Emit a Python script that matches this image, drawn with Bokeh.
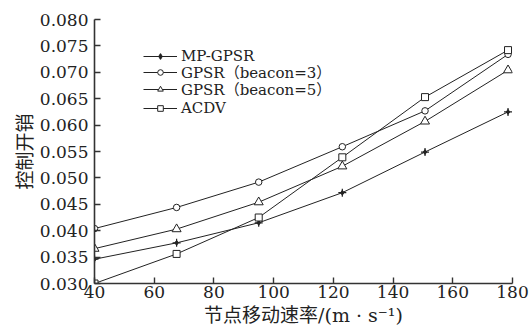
from bokeh.plotting import figure
from bokeh.models import Legend, LegendItem, FixedTicker, NumeralTickFormatter, Range1d
from bokeh.embed import file_html
from bokeh.resources import INLINE

# data
speed = [40, 67.5, 95, 123, 150.7, 178.5]
mp_gpsr = [0.0346, 0.0377, 0.0415, 0.0472, 0.0549, 0.0625]
gpsr_b3 = [0.0404, 0.0444, 0.0492, 0.0559, 0.0627, 0.0734]
gpsr_b5 = [0.0366, 0.0403, 0.0454, 0.0522, 0.0607, 0.0704]
acdv = [0.0300, 0.0356, 0.0425, 0.0539, 0.0653, 0.0742]
x_ticks = [40, 60, 80, 100, 120, 140, 160, 180]
y_ticks = [0.030, 0.035, 0.040, 0.045, 0.050, 0.055, 0.060, 0.065, 0.070, 0.075, 0.080]
labels = ["MP-GPSR", "GPSR（beacon=3）", "GPSR（beacon=5）", "ACDV"]

SERIF = "'DejaVu Serif', 'Noto Sans CJK SC'"
INK = "#222222"

p = figure(width=530, height=329, output_backend="svg", toolbar_location=None,
           x_range=Range1d(40, 180), y_range=Range1d(0.030, 0.080),
           min_border_left=94, min_border_right=18, min_border_top=19, min_border_bottom=46)
p.outline_line_color = None
p.xgrid.visible = False
p.ygrid.visible = False
p.background_fill_color = "white"

for ax in (p.xaxis[0], p.yaxis[0]):
    ax.axis_line_color = "#333333"
    ax.axis_line_width = 1.6
    ax.major_tick_line_color = "#333333"
    ax.major_tick_line_width = 1.4
    ax.major_tick_in = 6
    ax.major_tick_out = 0
    ax.minor_tick_line_color = None
    ax.major_label_text_font = SERIF
    ax.major_label_text_font_size = "17px"
    ax.major_label_text_color = INK
    ax.axis_label_text_font = SERIF
    ax.axis_label_text_font_size = "19px"
    ax.axis_label_text_font_style = "normal"
    ax.axis_label_text_color = INK

p.xaxis.ticker = FixedTicker(ticks=x_ticks)
p.yaxis.ticker = FixedTicker(ticks=y_ticks)
p.yaxis.formatter = NumeralTickFormatter(format="0.000")
p.xaxis.axis_label = "节点移动速率/(m · s⁻¹)"
p.yaxis.axis_label = "控制开销"
p.xaxis.major_label_standoff = 2
p.xaxis.axis_label_standoff = 3
p.yaxis.major_label_standoff = 6
p.yaxis.axis_label_standoff = 1

rows = []
# MP-GPSR
l1 = p.line(speed, mp_gpsr, line_color=INK, line_width=1)
m1a = p.scatter(speed, mp_gpsr, marker="cross", size=8, line_color=INK, line_width=1.2)
m1b = p.scatter(speed, mp_gpsr, marker="diamond", size=5, fill_color=INK, line_color=INK)
rows.append(LegendItem(label=labels[0], renderers=[l1, m1a, m1b]))
# GPSR beacon=3
l2 = p.line(speed, gpsr_b3, line_color=INK, line_width=1)
m2 = p.scatter(speed, gpsr_b3, marker="circle", size=6.5, fill_color="white", line_color=INK, line_width=1)
rows.append(LegendItem(label=labels[1], renderers=[l2, m2]))
# GPSR beacon=5
l3 = p.line(speed, gpsr_b5, line_color=INK, line_width=1)
m3 = p.scatter(speed, gpsr_b5, marker="triangle", size=9, fill_color="white", line_color=INK, line_width=1)
rows.append(LegendItem(label=labels[2], renderers=[l3, m3]))
# ACDV
l4 = p.line(speed, acdv, line_color=INK, line_width=1)
m4 = p.scatter(speed, acdv, marker="square", size=7, fill_color="white", line_color=INK, line_width=1)
rows.append(LegendItem(label=labels[3], renderers=[l4, m4]))

# one legend per row so the row pitch can follow the original
row_offsets = [218, 201, 184, 166]
for item, vy in zip(rows, row_offsets):
    lg = Legend(items=[item], location=(49, vy))
    lg.background_fill_alpha = 0
    lg.border_line_color = None
    lg.label_text_font = SERIF
    lg.label_text_font_size = "15px"
    lg.label_text_color = INK
    lg.glyph_width = 34
    lg.glyph_height = 14
    lg.label_height = 14
    lg.padding = 10
    lg.label_standoff = 4
    p.add_layout(lg)

open("out.html", "w").write(file_html(p, INLINE))
